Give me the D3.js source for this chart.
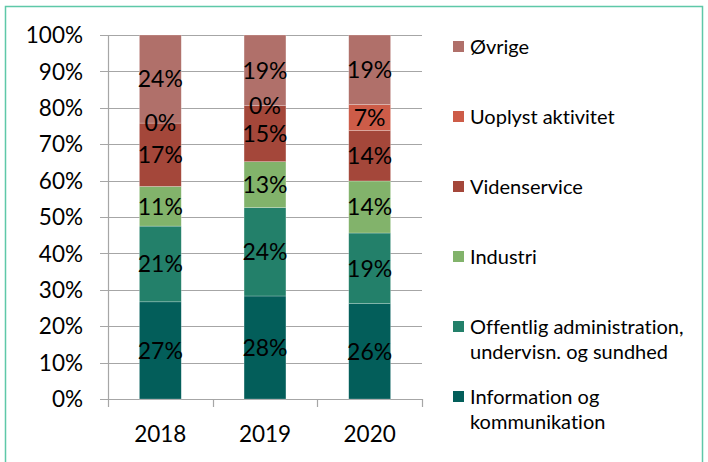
<!DOCTYPE html>
<html>
<head>
<meta charset="utf-8">
<script src="https://cdnjs.cloudflare.com/ajax/libs/d3/7.8.5/d3.min.js"></script>
<style>
  body { margin: 0; background: #fff; }
  svg { display: block; font-family: Lato, "Open Sans", sans-serif; font-variant-ligatures: none; }
</style>
</head>
<body>
<svg id="chart" width="708" height="462"></svg>
<script>
// years on the x axis
var years = ['2018', '2019', '2020'];

// share in percent, bottom of the stack first
var information = [26.7, 28.3, 26.2];
var offentlig = [20.8, 24.3, 19.4];
var industri = [10.9, 12.6, 14.3];
var videnservice = [17.4, 15.4, 13.9];
var uoplyst = [0, 0, 7.1];
var ovrige = [24.2, 19.4, 19.1];

var seriesNames = ['Information og kommunikation', 'Offentlig administration, undervisn. og sundhed',
  'Industri', 'Videnservice', 'Uoplyst aktivitet', 'Øvrige'];
// legend text broken in lines like the original
var legendLines = [['Information og', 'kommunikation'], ['Offentlig administration,', 'undervisn. og sundhed'],
  ['Industri'], ['Videnservice'], ['Uoplyst aktivitet'], ['Øvrige']];
var colors = ['#035e5a', '#23806a', '#82b36b', '#a4473a', '#cd5c48', '#b0706a'];
var yTicks = [0, 10, 20, 30, 40, 50, 60, 70, 80, 90, 100];

(function() {
  var svg = d3.select('#chart');

  // frame around the whole figure
  svg.append('rect').attr('x', 5.5).attr('y', 6.5).attr('width', 697).attr('height', 470)
    .attr('fill', 'none').attr('stroke', '#5ec8a8').attr('stroke-width', 1.5);

  var plotLeft = 108, plotRight = 422, plotTop = 35, plotBottom = 399;

  var x = d3.scaleBand().domain(years).range([plotLeft, plotRight]).paddingInner(0.6).paddingOuter(0.3);
  var y = d3.scaleLinear().domain([0, 100]).range([plotBottom, plotTop]);

  // gridlines (they stick out a bit left of the axis as tick marks)
  svg.append('g').selectAll('line').data(yTicks).enter().append('line')
    .attr('x1', plotLeft - 8).attr('x2', plotRight)
    .attr('y1', function(d) { return Math.round(y(d)) + 0.5; })
    .attr('y2', function(d) { return Math.round(y(d)) + 0.5; })
    .attr('stroke', '#a6a6a6').attr('stroke-width', 1.2);

  // y axis line + labels
  svg.append('line').attr('x1', plotLeft + 0.5).attr('x2', plotLeft + 0.5).attr('y1', plotTop).attr('y2', plotBottom + 0.5)
    .attr('stroke', '#a6a6a6').attr('stroke-width', 1.2);

  svg.append('g').selectAll('text').data(yTicks).enter().append('text')
    .attr('x', 83).attr('y', function(d) { return y(d); })
    .attr('dy', '0.36em').attr('text-anchor', 'end')
    .attr('font-size', 22.5).attr('fill', '#000')
    .text(function(d) { return d + '%'; });

  // category tick marks between the years
  var step = (plotRight - plotLeft) / years.length;
  svg.append('g').selectAll('line').data(d3.range(years.length + 1)).enter().append('line')
    .attr('x1', function(i) { return Math.round(plotLeft + i * step) + 0.5; })
    .attr('x2', function(i) { return Math.round(plotLeft + i * step) + 0.5; })
    .attr('y1', plotBottom).attr('y2', plotBottom + 8)
    .attr('stroke', '#a6a6a6').attr('stroke-width', 1.2);

  svg.append('g').selectAll('text').data(years).enter().append('text')
    .attr('x', function(d) { return x(d) + x.bandwidth() / 2; })
    .attr('y', 442).attr('text-anchor', 'middle')
    .attr('font-size', 22.5).attr('fill', '#000')
    .text(function(d) { return d; });

  // build the stack
  var table = years.map(function(yr, i) {
    return { year: yr, s0: information[i], s1: offentlig[i], s2: industri[i], s3: videnservice[i], s4: uoplyst[i], s5: ovrige[i] };
  });
  var stack = d3.stack().keys(['s0', 's1', 's2', 's3', 's4', 's5'])(table);

  var layers = svg.append('g').selectAll('g').data(stack).enter().append('g')
    .attr('fill', function(d, i) { return colors[i]; });

  layers.selectAll('rect').data(function(d) { return d; }).enter().append('rect')
    .attr('x', function(d) { return x(d.data.year); })
    .attr('width', x.bandwidth())
    .attr('y', function(d) { return y(d[1]); })
    .attr('height', function(d) { return y(d[0]) - y(d[1]); })
    .attr('stroke', 'rgba(255,255,255,0.4)').attr('stroke-width', 0.6);

  // value labels in the middle of each piece
  var labels = svg.append('g');
  stack.forEach(function(layer) {
    layer.forEach(function(d) {
      labels.append('text')
        .attr('x', x(d.data.year) + x.bandwidth() / 2)
        .attr('y', y((d[0] + d[1]) / 2))
        .attr('dy', '0.36em').attr('text-anchor', 'middle')
        .attr('font-size', 23).attr('fill', '#000')
        .text(Math.round(d[1] - d[0]) + '%');
    });
  });

  // legend, top item is Øvrige
  var legendY = [397, 327, 257, 187, 117, 47];
  var legend = svg.append('g');
  legendLines.forEach(function(lines, i) {
    legend.append('rect').attr('x', 453).attr('y', legendY[i] - 6).attr('width', 11).attr('height', 11)
      .attr('fill', colors[i]);
    lines.forEach(function(t, j) {
      legend.append('text').attr('x', 470).attr('y', legendY[i] + j * 25)
        .attr('dy', '0.36em').attr('font-size', 20).attr('fill', '#000')
        .text(t);
    });
  });
})();
</script>
</body>
</html>
